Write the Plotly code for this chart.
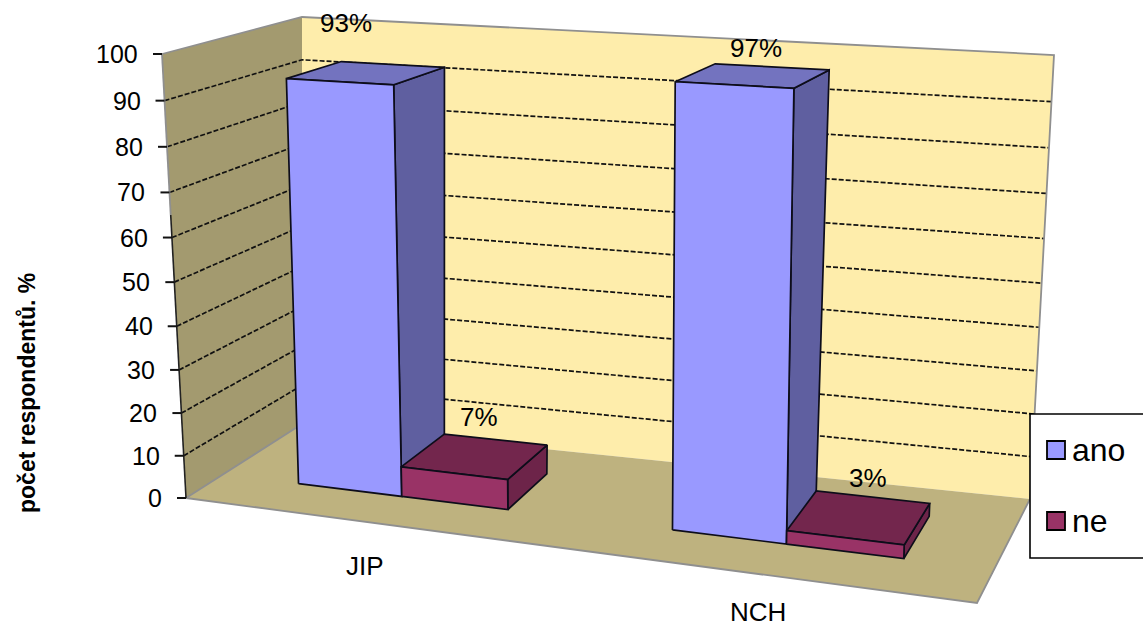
import numpy as np
import plotly.graph_objects as go

# Chart values
categories = ["JIP", "NCH"]
series_names = ["ano", "ne"]
ano_values = [93, 97]
ne_values = [7, 3]
y_ticks = [0, 10, 20, 30, 40, 50, 60, 70, 80, 90, 100]
y_title = "počet respondentů. %"

# Oblique box view: floor and ceiling quads as (x=0,z=0), (1,0), (1,1), (0,1)
W, H = 1143, 627
FLOOR_QUAD = np.array([(186, 498), (977, 603), (1030, 499), (302, 424)], float)
CEILING_QUAD = np.array([(162, 54), (990, 99), (1054, 55), (302, 17)], float)
VALUE_SKEW = 1.057  # value steps shrink slightly towards the floor
WIDTH_SKEW = 1.105  # the right-hand side of the box sits nearer the viewer


def on_quad(quad, u, z):
    front = quad[0] + (quad[1] - quad[0]) * u
    back = quad[3] + (quad[2] - quad[3]) * u
    return front + (back - front) * z


def project(x, value, z):
    u = x / (x + (1 - x) * WIDTH_SKEW)
    t = value / 100
    t = t / (t + (1 - t) * VALUE_SKEW)
    a, b = on_quad(FLOOR_QUAD, u, z), on_quad(CEILING_QUAD, u, z)
    p = a + (b - a) * t
    return p[0], p[1]


def path(points):
    xy = [project(*p) for p in points]
    return [a for a, _ in xy], [b for _, b in xy]


fig = go.Figure()


def poly(points, fill, line="rgba(0,0,0,0)", width=0):
    xs, ys = path(points)
    fig.add_trace(go.Scatter(x=xs + xs[:1], y=ys + ys[:1], mode="lines", fill="toself",
                             fillcolor=fill, line=dict(color=line, width=width),
                             hoverinfo="skip", showlegend=False))


def stroke(points, color, width, dash="solid"):
    xs, ys = path(points)
    fig.add_trace(go.Scatter(x=xs, y=ys, mode="lines", line=dict(color=color, width=width, dash=dash),
                             hoverinfo="skip", showlegend=False))


EDGE = "#8f8f8f"
# Walls and floor of the box
poly([(0, 0, 0), (0, 100, 0), (0, 100, 1), (0, 0, 1)], "#A39A6F")
poly([(0, 0, 1), (0, 100, 1), (1, 100, 1), (1, 0, 1)], "#FEEDAB")
for v in y_ticks[1:-1]:
    stroke([(0, v, 0), (0, v, 1), (1, v, 1)], "#111111", 1.7, "5px,2px")
poly([(0, 0, 0), (1, 0, 0), (1, 0, 1), (0, 0, 1)], "#BEB27F")
stroke([(0, 100, 0), (0, 100, 1), (1, 100, 1), (1, 0, 1)], EDGE, 1.8)
stroke([(0, 0, 1), (0, 0, 0), (1, 0, 0), (1, 0, 1)], EDGE, 1.8)
stroke([(0, 65, 0), (0, 100, 0)], EDGE, 1.8)
stroke([(0, 0, 0), (0, 65, 0)], "#222222", 1.6)

# Bars: two side-by-side columns per category
HALF = 0.143
Z0, Z1 = 0.32, 0.74
CENTERS = [0.25, 0.75]
STYLES = [("#9999FF", "#5F5FA0", "#7373BF"), ("#993366", "#6D2449", "#73264D")]
OUT = "#0d0d1a"

for c, cx in enumerate(CENTERS):
    for s, vals in enumerate([ano_values, ne_values]):
        v = vals[c]
        x0, x1 = cx - HALF + s * HALF, cx + s * HALF
        front, side, top = STYLES[s]
        poly([(x1, 0, Z0), (x1, v, Z0), (x1, v, Z1), (x1, 0, Z1)], side, OUT, 1.7)
        poly([(x0, v, Z0), (x1, v, Z0), (x1, v, Z1), (x0, v, Z1)], top, OUT, 1.7)
        poly([(x0, 0, Z0), (x1, 0, Z0), (x1, v, Z0), (x0, v, Z0)], front, OUT, 1.7)

# Value-axis tick marks and labels
for v in y_ticks:
    px, py = project(0, v, 0)
    fig.add_shape(type="line", x0=px - 9, x1=px, y0=py, y1=py, line=dict(color="#111111", width=2))
    fig.add_annotation(x=px - 22, y=py, text=str(v), showarrow=False, xanchor="right",
                       font=dict(size=25, family="Liberation Sans", color="#000000"))

# Percentage labels above the columns (pixel nudges per column)
LABEL_NUDGE = {(0, 0): (-16, -51), (1, 0): (6, -29), (0, 1): (7, -42), (1, 1): (11, -42)}
for c, cx in enumerate(CENTERS):
    for s, vals in enumerate([ano_values, ne_values]):
        v = vals[c]
        px, py = project(cx - HALF / 2 + s * HALF, v, 0.5)
        dx, dy = LABEL_NUDGE[(c, s)]
        fig.add_annotation(x=px + dx, y=py + dy, text=f"{v}%", showarrow=False,
                           font=dict(size=26, family="Liberation Sans", color="#000000"))

# Category labels under the floor
for name, pos in zip(categories, [(365, 566), (758, 612)]):
    fig.add_annotation(x=pos[0], y=pos[1], text=name, showarrow=False,
                       font=dict(size=26, family="Liberation Sans", color="#000000"))

# Axis title
fig.add_annotation(x=27, y=393, text=f"<b>{y_title}</b>", textangle=-90, showarrow=False,
                   font=dict(size=23, family="Liberation Sans", color="#000000"))

# Legend box
fig.add_shape(type="rect", x0=1030, x1=1150, y0=414, y1=558,
              line=dict(color="#000000", width=1.6), fillcolor="#FFFFFF")
for name, color, ty in zip(series_names, ["#9999FF", "#993366"], [450, 521]):
    fig.add_shape(type="rect", x0=1047, x1=1065, y0=ty - 9, y1=ty + 9,
                  line=dict(color="#000000", width=1.8), fillcolor=color)
    fig.add_annotation(x=1070, y=ty, text=name, showarrow=False, xanchor="left",
                       font=dict(size=32, family="Liberation Sans", color="#000000"))

fig.update_layout(
    width=W, height=H, autosize=False, margin=dict(l=0, r=0, t=0, b=0),
    paper_bgcolor="#FFFFFF", plot_bgcolor="#FFFFFF", showlegend=False,
    xaxis=dict(range=[0, W], visible=False, fixedrange=True),
    yaxis=dict(range=[H, 0], visible=False, fixedrange=True),
)
fig.write_html("out.html")
